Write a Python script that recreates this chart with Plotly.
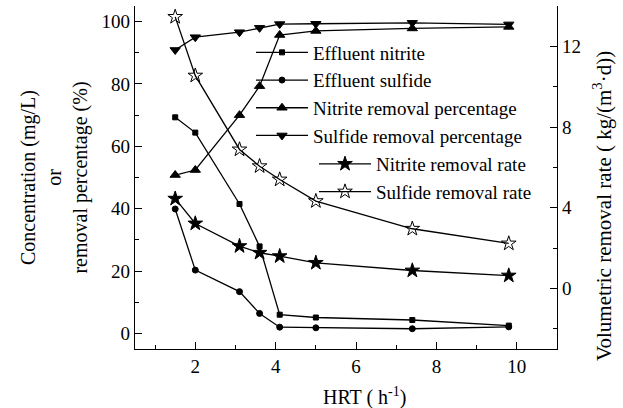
import plotly.graph_objects as go

hrt = [1.5, 2.0, 3.1, 3.6, 4.1, 5.0, 7.4, 9.8]
effluent_nitrite = [69.3, 64.4, 41.5, 27.9, 6.0, 5.1, 4.3, 2.5]
effluent_sulfide = [39.9, 20.3, 13.4, 6.4, 2.0, 1.8, 1.5, 2.1]
nitrite_removal_pct = [50.8, 52.4, 70.0, 79.3, 95.7, 97.0, 97.8, 98.3]
sulfide_removal_pct = [90.9, 95.0, 96.6, 98.0, 99.2, 99.3, 99.6, 99.1]
nitrite_removal_rate = [4.45, 3.22, 2.10, 1.77, 1.60, 1.27, 0.89, 0.64]
sulfide_removal_rate = [13.46, 10.55, 6.89, 6.06, 5.40, 4.33, 2.96, 2.23]

FONT = "Liberation Serif"
BLACK = "black"

fig = go.Figure()

def add(y, name, symbol, size, axis, legend):
    fig.add_trace(go.Scatter(
        x=hrt, y=y, name=name, mode="lines+markers",
        line=dict(color=BLACK, width=1.3),
        marker=dict(symbol=symbol, size=size, color=BLACK,
                    line=dict(color=BLACK, width=1)),
        yaxis=axis, legend=legend,
    ))

add(effluent_nitrite, "Effluent nitrite", "square", 5, "y", "legend")
add(effluent_sulfide, "Effluent sulfide", "circle", 6, "y", "legend")
add(nitrite_removal_pct, "Nitrite removal percentage", "triangle-up", 9, "y", "legend")
add(sulfide_removal_pct, "Sulfide removal percentage", "triangle-down", 9, "y", "legend")
add(nitrite_removal_rate, "Nitrite removal rate", "star", 11, "y2", "legend2")
add(sulfide_removal_rate, "Sulfide removal rate", "star-open", 11, "y2", "legend2")

L, R, T, B = 135, 66, 6, 59
W, H = 623, 408
pw, ph = W - L - R, H - T - B

def px_x(px):
    return (px - L) / pw

def px_y(py):
    return (H - B - py) / ph

axis_common = dict(
    showline=True, linecolor=BLACK, linewidth=1.3, ticks="inside",
    tickcolor=BLACK, tickwidth=1.2, ticklen=7, showgrid=False, zeroline=False,
    tickfont=dict(family=FONT, size=19, color=BLACK),
)

fig.update_layout(
    width=W, height=H,
    margin=dict(l=L, r=R, t=T, b=B),
    paper_bgcolor="white", plot_bgcolor="white",
    font=dict(family=FONT, size=19, color=BLACK),
    xaxis=dict(range=[0.5, 11], tick0=0, dtick=2,
               minor=dict(ticks="inside", ticklen=4, tickcolor=BLACK, dtick=1, tick0=0, tickwidth=1.2),
               **axis_common),
    yaxis=dict(range=[-5, 105], tick0=0, dtick=20,
               minor=dict(ticks="inside", ticklen=4, tickcolor=BLACK, dtick=10, tick0=0, tickwidth=1.2),
               title=dict(text="Concentration (mg/L)<br>or<br>removal percentage (%)",
                          font=dict(family=FONT, size=20, color=BLACK), standoff=8),
               **axis_common),
    yaxis2=dict(range=[-3, 14], tick0=0, dtick=4, overlaying="y", side="right",
                minor=dict(ticks="inside", ticklen=4, tickcolor=BLACK, dtick=2, tick0=0, tickwidth=1.2),
                **axis_common),
    legend=dict(x=px_x(251), y=px_y(33.5), xanchor="left", yanchor="top",
                bgcolor="rgba(0,0,0,0)", itemwidth=52,
                font=dict(family=FONT, size=19, color=BLACK)),
    legend2=dict(x=px_x(314), y=px_y(145), xanchor="left", yanchor="top",
                 bgcolor="rgba(0,0,0,0)", itemwidth=52,
                 font=dict(family=FONT, size=19, color=BLACK)),
    showlegend=True,
    annotations=[
        dict(text="HRT ( h<sup>-1</sup>)", xref="paper", yref="paper",
             x=px_x(364), y=px_y(396), xanchor="center", yanchor="middle",
             showarrow=False, font=dict(family=FONT, size=20, color=BLACK)),
        dict(text="Volumetric removal rate ( kg/(m<sup>3</sup>·d))", xref="paper", yref="paper",
             x=px_x(603), y=px_y(206), xanchor="center", yanchor="middle", textangle=-90,
             showarrow=False, font=dict(family=FONT, size=21, color=BLACK)),
    ],
)

fig.write_html("out.html")
